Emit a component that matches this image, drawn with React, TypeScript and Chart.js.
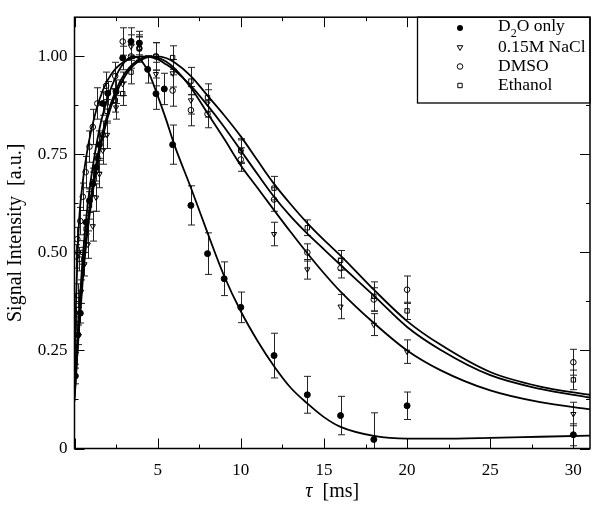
import React, { useEffect, useRef } from 'react';
import { Chart, registerables } from 'chart.js';

Chart.register(...registerables);

// ---------- data ----------
const seriesLabels = ['D₂O only', '0.15M NaCl', 'DMSO', 'Ethanol'];
const xTickValues = [5, 10, 15, 20, 25, 30];
const yTickValues = [0, 0.25, 0.5, 0.75, 1.0];
const xTitleParts = ['τ', '  [ms]'];

const d2oX = [0.05, 0.2, 0.35, 0.7, 0.9, 1.1, 1.3, 1.5, 1.7, 2.0, 2.5, 2.9, 3.4, 3.9, 4.4, 4.9, 5.4, 5.9, 7, 8, 9, 10, 12, 14, 16, 18, 20, 30];
const d2oY = [0.185, 0.29, 0.345, 0.577, 0.632, 0.675, 0.717, 0.775, 0.88, 0.906, 0.91, 0.996, 1.038, 1.034, 0.967, 0.905, 0.917, 0.775, 0.62, 0.497, 0.433, 0.36, 0.237, 0.137, 0.084, 0.023, 0.109, 0.035];
const d2oErr = [0.02, 0.025, 0.025, 0.03, 0.03, 0.03, 0.035, 0.035, 0.03, 0.03, 0.03, 0.03, 0.035, 0.03, 0.035, 0.04, 0.04, 0.05, 0.05, 0.053, 0.043, 0.039, 0.057, 0.047, 0.049, 0.068, 0.035, 0.028];

const naclX = [0.05, 0.2, 0.4, 0.6, 0.8, 1.1, 1.3, 1.5, 1.7, 1.96, 2.5, 2.9, 3.4, 3.9, 4.9, 5.9, 7, 8, 10, 12, 14, 16, 18, 20, 30];
const naclY = [0.24, 0.32, 0.40, 0.47, 0.52, 0.567, 0.64, 0.70, 0.76, 0.80, 0.87, 0.93, 1.025, 1.02, 0.955, 0.957, 0.888, 0.88, 0.757, 0.547, 0.457, 0.362, 0.316, 0.247, 0.088];
const naclErr = [0.025, 0.03, 0.03, 0.03, 0.035, 0.038, 0.035, 0.035, 0.035, 0.035, 0.03, 0.03, 0.03, 0.03, 0.03, 0.035, 0.035, 0.035, 0.03, 0.03, 0.025, 0.031, 0.028, 0.03, 0.03];

const dmsoX = [0.1, 0.17, 0.35, 0.5, 0.67, 0.9, 1.1, 1.37, 1.9, 2.45, 2.9, 3.4, 3.9, 4.9, 5.9, 7, 8, 10, 12, 14, 16, 18, 20, 30];
const dmsoY = [0.49, 0.534, 0.58, 0.642, 0.705, 0.77, 0.82, 0.88, 0.925, 0.95, 1.038, 1.0, 1.02, 1.0, 0.913, 0.863, 0.853, 0.737, 0.635, 0.50, 0.46, 0.38, 0.405, 0.22];
const dmsoErr = [0.03, 0.03, 0.035, 0.035, 0.04, 0.04, 0.045, 0.04, 0.035, 0.035, 0.035, 0.03, 0.03, 0.035, 0.04, 0.04, 0.035, 0.03, 0.03, 0.022, 0.025, 0.03, 0.035, 0.033];

const ethX = [0.05, 0.1, 0.2, 0.3, 0.5, 0.7, 0.9, 1.1, 1.4, 1.7, 1.95, 2.45, 2.9, 3.4, 3.9, 4.9, 5.9, 7, 8, 10, 12, 14, 16, 18, 20, 30];
const ethY = [0.27, 0.33, 0.39, 0.483, 0.5, 0.56, 0.62, 0.68, 0.74, 0.80, 0.86, 0.888, 0.905, 0.96, 1.02, 1.0, 0.997, 0.937, 0.895, 0.76, 0.664, 0.563, 0.48, 0.388, 0.351, 0.175];
const ethErr = [0.025, 0.03, 0.03, 0.03, 0.03, 0.035, 0.035, 0.035, 0.035, 0.035, 0.03, 0.03, 0.03, 0.03, 0.035, 0.035, 0.03, 0.035, 0.035, 0.03, 0.03, 0.02, 0.025, 0.037, 0.022, 0.025];

// fitted curves
const fitT = [0, 0.25, 0.5, 0.75, 1, 1.5, 2, 2.5, 3, 3.5, 4, 4.5, 5, 5.5, 6, 7, 8, 9, 10, 11, 12, 13, 14, 15, 16, 18, 20, 22, 25, 28, 31];
const fitD2O = [0.15, 0.34, 0.49, 0.605, 0.69, 0.815, 0.895, 0.95, 0.985, 1.0, 0.99, 0.955, 0.9, 0.84, 0.775, 0.665, 0.55, 0.44, 0.35, 0.275, 0.21, 0.155, 0.115, 0.08, 0.055, 0.032, 0.025, 0.025, 0.027, 0.03, 0.033];
const fitNaCl = [0.12, 0.3, 0.45, 0.56, 0.645, 0.77, 0.855, 0.915, 0.955, 0.98, 0.995, 1.0, 0.997, 0.987, 0.97, 0.92, 0.855, 0.79, 0.722, 0.665, 0.608, 0.552, 0.498, 0.447, 0.4, 0.32, 0.25, 0.2, 0.148, 0.118, 0.1];
const fitDMSO = [0.25, 0.56, 0.68, 0.755, 0.81, 0.89, 0.94, 0.97, 0.987, 0.996, 1.0, 0.999, 0.993, 0.98, 0.965, 0.925, 0.875, 0.82, 0.76, 0.7, 0.642, 0.592, 0.548, 0.508, 0.468, 0.39, 0.31, 0.252, 0.187, 0.152, 0.13];
const fitEth = [0.13, 0.29, 0.43, 0.54, 0.625, 0.755, 0.845, 0.905, 0.947, 0.975, 0.991, 0.999, 1.0, 0.996, 0.985, 0.95, 0.9, 0.85, 0.796, 0.735, 0.675, 0.623, 0.575, 0.532, 0.492, 0.405, 0.325, 0.265, 0.195, 0.158, 0.137];

// ---------- helpers ----------
const FONT = "'Liberation Serif', 'Times New Roman', Times, serif";
const pts = (xs: number[], ys: number[]) => xs.map((x, i) => ({ x, y: ys[i] }));

function drawMarker(ctx: CanvasRenderingContext2D, kind: string, x: number, y: number) {
  ctx.save();
  ctx.lineWidth = 1;
  ctx.strokeStyle = '#000';
  ctx.fillStyle = '#000';
  ctx.beginPath();
  if (kind === 'filled') {
    ctx.arc(x, y, 3, 0, Math.PI * 2);
    ctx.fill();
  } else if (kind === 'circle') {
    ctx.arc(x, y, 2.8, 0, Math.PI * 2);
    ctx.stroke();
  } else if (kind === 'square') {
    ctx.rect(x - 2.2, y - 2.2, 4.4, 4.4);
    ctx.stroke();
  } else if (kind === 'tri') {
    ctx.moveTo(x - 2.8, y - 1.8);
    ctx.lineTo(x + 2.8, y - 1.8);
    ctx.lineTo(x, y + 3);
    ctx.closePath();
    ctx.stroke();
  }
  ctx.restore();
}

const decorPlugin = {
  id: 'decor',
  beforeDatasetsDraw(chart: any) {
    const { ctx, chartArea } = chart;
    const xs = chart.scales.x;
    const ys = chart.scales.y;
    ctx.save();
    ctx.beginPath();
    ctx.rect(chartArea.left, chartArea.top, chartArea.right - chartArea.left, chartArea.bottom - chartArea.top);
    ctx.clip();
    ctx.strokeStyle = '#222';
    ctx.lineWidth = 1;
    chart.data.datasets.forEach((ds: any) => {
      if (!ds.errors) return;
      ds.data.forEach((p: any, i: number) => {
        const e = ds.errors[i];
        const px = Math.round(xs.getPixelForValue(p.x)) + 0.5;
        const y1 = ys.getPixelForValue(p.y - e);
        const y2 = ys.getPixelForValue(p.y + e);
        ctx.beginPath();
        ctx.moveTo(px, y1);
        ctx.lineTo(px, y2);
        ctx.moveTo(px - 3.5, y1);
        ctx.lineTo(px + 3.5, y1);
        ctx.moveTo(px - 3.5, y2);
        ctx.lineTo(px + 3.5, y2);
        ctx.stroke();
      });
    });
    ctx.restore();
  },
  afterDraw(chart: any) {
    const { ctx, chartArea } = chart;
    const { left, right, top, bottom } = chartArea;
    const xs = chart.scales.x;
    const ys = chart.scales.y;
    ctx.save();
    ctx.strokeStyle = '#000';
    ctx.lineWidth = 1;
    ctx.beginPath();
    for (let v = 0; v <= xs.max + 1e-9; v += 2.5) {
      const major = Math.abs(v % 5) < 1e-9;
      const len = major ? 10 : 4;
      const px = Math.round(xs.getPixelForValue(v)) + 0.5;
      ctx.moveTo(px, bottom);
      ctx.lineTo(px, bottom - len);
      ctx.moveTo(px, top);
      ctx.lineTo(px, top + len);
    }
    for (let v = 0; v <= ys.max + 1e-9; v += 0.125) {
      const major = Math.abs((v / 0.25) - Math.round(v / 0.25)) < 1e-9;
      const len = major ? 10 : 4;
      const py = Math.round(ys.getPixelForValue(v)) + 0.5;
      ctx.moveTo(left, py);
      ctx.lineTo(left + len, py);
      ctx.moveTo(right, py);
      ctx.lineTo(right - len, py);
    }
    ctx.stroke();

    // legend box
    const bx = 417.5;
    const by = top;
    const bw = right - bx;
    const bh = 103 - top;
    ctx.fillStyle = '#fff';
    ctx.fillRect(bx, by, bw, bh);
    ctx.lineWidth = 1.3;
    ctx.strokeRect(bx, by, bw, bh);

    // frame
    ctx.lineWidth = 1.5;
    ctx.strokeRect(left, top, right - left, bottom - top);

    // legend entries
    const rows = [26, 47.5, 66.5, 85.5];
    const items = chart.data.datasets.filter((d: any) => d.marker);
    ctx.fillStyle = '#000';
    ctx.textBaseline = 'middle';
    ctx.textAlign = 'left';
    items.forEach((ds: any, i: number) => {
      const cy = rows[i];
      drawMarker(ctx, ds.marker, 460, ds.marker === 'filled' ? cy + 2 : cy);
      const label: string = ds.label;
      let tx = 498;
      ctx.font = `17.5px ${FONT}`;
      if (label.includes('₂')) {
        const [a, b] = label.split('₂');
        ctx.fillText(a, tx, cy);
        tx += ctx.measureText(a).width;
        ctx.font = `12px ${FONT}`;
        ctx.fillText('2', tx, cy + 8);
        tx += ctx.measureText('2').width;
        ctx.font = `17.5px ${FONT}`;
        ctx.fillText(b, tx, cy);
      } else {
        ctx.fillText(label, tx, cy);
      }
    });

    // x-axis title with italic tau
    const italic = `italic 20px ${FONT}`;
    const normal = `20px ${FONT}`;
    ctx.font = italic;
    const w1 = ctx.measureText(xTitleParts[0]).width;
    ctx.font = normal;
    const w2 = ctx.measureText(xTitleParts[1]).width;
    let tx = (left + right) / 2 - (w1 + w2) / 2;
    const ty = 492;
    ctx.font = italic;
    ctx.fillText(xTitleParts[0], tx, ty);
    tx += w1;
    ctx.font = normal;
    ctx.fillText(xTitleParts[1], tx, ty);
    ctx.restore();
  },
};

const fitLine = (t: number[], v: number[]) => ({
  data: pts(t, v),
  showLine: true,
  borderColor: '#000',
  borderWidth: 1.8,
  pointRadius: 0,
  pointHoverRadius: 0,
  cubicInterpolationMode: 'monotone',
  fill: false,
  order: 2,
});

export default function App() {
  const canvasRef = useRef<HTMLCanvasElement | null>(null);

  useEffect(() => {
    document.body.style.margin = '0';
    const canvas = canvasRef.current;
    if (!canvas) return;

    const scatter = (label: string, marker: string, xs: number[], ys: number[], errs: number[], style: any) => ({
      label,
      marker,
      errors: errs,
      data: pts(xs, ys),
      showLine: false,
      borderColor: '#000',
      borderWidth: 1,
      order: 1,
      ...style,
    });

    const chart = new Chart(canvas, {
      type: 'scatter',
      data: {
        datasets: [
          fitLine(fitT, fitD2O),
          fitLine(fitT, fitNaCl),
          fitLine(fitT, fitDMSO),
          fitLine(fitT, fitEth),
          scatter(seriesLabels[0], 'filled', d2oX, d2oY, d2oErr, { pointStyle: 'circle', pointRadius: 3, backgroundColor: '#000' }),
          scatter(seriesLabels[1], 'tri', naclX, naclY, naclErr, { pointStyle: 'triangle', pointRotation: 180, pointRadius: 3, backgroundColor: 'rgba(255,255,255,0)' }),
          scatter(seriesLabels[2], 'circle', dmsoX, dmsoY, dmsoErr, { pointStyle: 'circle', pointRadius: 2.8, backgroundColor: 'rgba(255,255,255,0)' }),
          scatter(seriesLabels[3], 'square', ethX, ethY, ethErr, { pointStyle: 'rect', pointRadius: 3.1, backgroundColor: 'rgba(255,255,255,0)' }),
        ] as any,
      },
      options: {
        animation: false,
        responsive: false,
        devicePixelRatio: 1,
        layout: { padding: { top: 8, right: 10, left: 0, bottom: 0 } },
        plugins: {
          legend: { display: false },
          tooltip: { enabled: false },
        },
        scales: {
          x: {
            type: 'linear',
            min: 0,
            max: 31,
            grid: { display: false, drawTicks: false },
            border: { display: false },
            afterBuildTicks: (s: any) => {
              s.ticks = xTickValues.map((v) => ({ value: v }));
            },
            afterFit: (s: any) => {
              s.height = 58.5;
            },
            ticks: {
              color: '#000',
              padding: 12,
              maxRotation: 0,
              autoSkip: false,
              font: { family: FONT, size: 17 },
              callback: (v: any) => String(v),
            },
            title: { display: false },
          },
          y: {
            type: 'linear',
            min: 0,
            max: 1.1,
            grid: { display: false, drawTicks: false },
            border: { display: false },
            afterBuildTicks: (s: any) => {
              s.ticks = yTickValues.map((v) => ({ value: v }));
            },
            afterFit: (s: any) => {
              s.width = 74.5;
            },
            ticks: {
              color: '#000',
              padding: 7,
              autoSkip: false,
              font: { family: FONT, size: 17 },
              callback: (v: any) => (Number(v) === 0 ? '0' : Number(v).toFixed(2)),
            },
            title: {
              display: true,
              text: 'Signal Intensity  [a.u.]',
              color: '#000',
              font: { family: FONT, size: 20 },
              padding: { top: 4, bottom: 0 },
            },
          },
        },
      } as any,
      plugins: [decorPlugin],
    });

    return () => chart.destroy();
  }, []);

  return (
    <div style={{ position: 'fixed', left: 0, top: 0, width: 600, height: 507, background: '#fff' }}>
      <canvas ref={canvasRef} width={600} height={507} style={{ display: 'block', width: 600, height: 507 }} />
    </div>
  );
}
